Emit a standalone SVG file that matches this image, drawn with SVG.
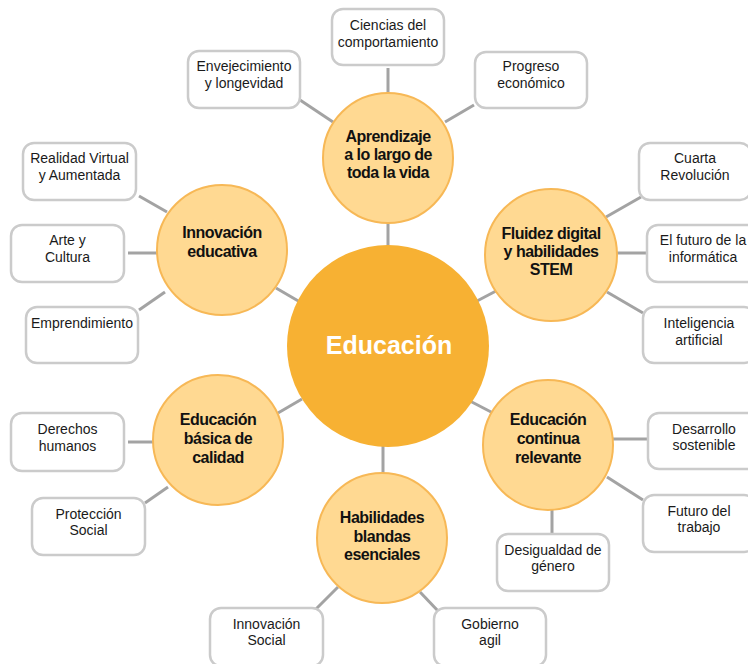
<svg xmlns="http://www.w3.org/2000/svg" width="748" height="664" viewBox="0 0 748 664">
<style>
.ln{stroke:#a3a3a3;stroke-width:3;fill:none}
.box{fill:#fff;stroke:#cbcbcb;stroke-width:2.5}
.sat{fill:#ffd992;stroke:#f7b856;stroke-width:2}
.bt{font-family:"Liberation Sans",Arial,sans-serif;font-size:14px;fill:#1a1a1a;text-anchor:middle}
.st{font-family:"Liberation Sans",Arial,sans-serif;font-size:16px;letter-spacing:-0.5px;font-weight:bold;fill:#111;text-anchor:middle}
.ct{font-family:"Liberation Sans",Arial,sans-serif;font-size:25px;font-weight:bold;fill:#fff;text-anchor:middle}
</style>
<rect width="748" height="664" fill="#fff"/>
<g id="connectors">
<line class="ln" x1="388" y1="68" x2="388" y2="94"/>
<line class="ln" x1="300" y1="100" x2="333" y2="122"/>
<line class="ln" x1="445" y1="122" x2="474" y2="105"/>
<line class="ln" x1="388" y1="222" x2="388" y2="247"/>
<line class="ln" x1="139" y1="196" x2="167" y2="212"/>
<line class="ln" x1="128" y1="253" x2="158" y2="253"/>
<line class="ln" x1="139" y1="310" x2="165" y2="292"/>
<line class="ln" x1="276" y1="288" x2="300" y2="302"/>
<line class="ln" x1="606" y1="217" x2="641" y2="197"/>
<line class="ln" x1="616" y1="253" x2="647" y2="253"/>
<line class="ln" x1="607" y1="292" x2="643" y2="313"/>
<line class="ln" x1="477" y1="301" x2="496" y2="291"/>
<line class="ln" x1="128" y1="442" x2="154" y2="442"/>
<line class="ln" x1="145" y1="503" x2="168" y2="487"/>
<line class="ln" x1="278" y1="413" x2="302" y2="399"/>
<line class="ln" x1="468" y1="400" x2="493" y2="413"/>
<line class="ln" x1="612" y1="439" x2="648" y2="439"/>
<line class="ln" x1="607" y1="477" x2="643" y2="500"/>
<line class="ln" x1="552" y1="509" x2="552" y2="534"/>
<line class="ln" x1="383" y1="446" x2="383" y2="474"/>
<line class="ln" x1="315" y1="610" x2="338" y2="587"/>
<line class="ln" x1="420" y1="592" x2="439" y2="612"/>
</g>
<g id="educacion">
<circle cx="388" cy="346" r="101" fill="#f7b133"/>
<text class="ct" x="389" y="354">Educación</text>
</g>
<g id="aprendizaje">
<circle class="sat" cx="388" cy="158" r="65"/>
<text class="st" x="388" y="142">Aprendizaje</text>
<text class="st" x="388" y="160">a lo largo de</text>
<text class="st" x="388" y="178">toda la vida</text>
</g>
<g id="innovacion-educativa">
<circle class="sat" cx="222" cy="250" r="65"/>
<text class="st" x="222" y="238">Innovación</text>
<text class="st" x="222" y="257">educativa</text>
</g>
<g id="fluidez">
<circle class="sat" cx="551" cy="255" r="66"/>
<text class="st" x="551" y="239">Fluidez digital</text>
<text class="st" x="551" y="257">y habilidades</text>
<text class="st" x="551" y="275">STEM</text>
</g>
<g id="basica">
<circle class="sat" cx="218" cy="440" r="65"/>
<text class="st" x="218" y="425">Educación</text>
<text class="st" x="218" y="444">básica de</text>
<text class="st" x="218" y="463">calidad</text>
</g>
<g id="continua">
<circle class="sat" cx="548" cy="445" r="65"/>
<text class="st" x="548" y="425">Educación</text>
<text class="st" x="548" y="444">continua</text>
<text class="st" x="548" y="463">relevante</text>
</g>
<g id="habilidades">
<circle class="sat" cx="382" cy="538" r="65"/>
<text class="st" x="382" y="523">Habilidades</text>
<text class="st" x="382" y="542">blandas</text>
<text class="st" x="382" y="560">esenciales</text>
</g>
<g id="ciencias">
<rect class="box" x="332" y="9" width="112" height="56" rx="11"/>
<text class="bt" x="388" y="30">Ciencias del</text>
<text class="bt" x="388" y="47">comportamiento</text>
</g>
<g id="envejecimiento">
<rect class="box" x="188" y="51" width="112" height="57" rx="11"/>
<text class="bt" x="244" y="71">Envejecimiento</text>
<text class="bt" x="244" y="88">y longevidad</text>
</g>
<g id="progreso">
<rect class="box" x="475" y="52" width="112" height="56" rx="11"/>
<text class="bt" x="531" y="71">Progreso</text>
<text class="bt" x="531" y="88">económico</text>
</g>
<g id="realidad">
<rect class="box" x="23" y="143" width="113" height="57" rx="11"/>
<text class="bt" x="79.5" y="163">Realidad Virtual</text>
<text class="bt" x="79.5" y="180">y Aumentada</text>
</g>
<g id="arte">
<rect class="box" x="11" y="225" width="113" height="57" rx="11"/>
<text class="bt" x="67.5" y="245">Arte y</text>
<text class="bt" x="67.5" y="262">Cultura</text>
</g>
<g id="emprendimiento">
<rect class="box" x="26" y="307" width="112" height="56" rx="11"/>
<text class="bt" x="82" y="328">Emprendimiento</text>
</g>
<g id="cuarta">
<rect class="box" x="639" y="143" width="112" height="57" rx="11"/>
<text class="bt" x="695" y="163">Cuarta</text>
<text class="bt" x="695" y="180">Revolución</text>
</g>
<g id="futuro-informatica">
<rect class="box" x="647" y="225" width="112" height="57" rx="11"/>
<text class="bt" x="703" y="245">El futuro de la</text>
<text class="bt" x="703" y="262">informática</text>
</g>
<g id="inteligencia">
<rect class="box" x="643" y="307" width="112" height="56" rx="11"/>
<text class="bt" x="699" y="328">Inteligencia</text>
<text class="bt" x="699" y="345">artificial</text>
</g>
<g id="derechos">
<rect class="box" x="11" y="413" width="113" height="58" rx="11"/>
<text class="bt" x="67.5" y="434">Derechos</text>
<text class="bt" x="67.5" y="451">humanos</text>
</g>
<g id="proteccion">
<rect class="box" x="32" y="498" width="113" height="57" rx="11"/>
<text class="bt" x="88.5" y="519">Protección</text>
<text class="bt" x="88.5" y="535">Social</text>
</g>
<g id="desarrollo">
<rect class="box" x="648" y="413" width="112" height="56" rx="11"/>
<text class="bt" x="704" y="434">Desarrollo</text>
<text class="bt" x="704" y="450">sostenible</text>
</g>
<g id="futuro-trabajo">
<rect class="box" x="643" y="495" width="112" height="57" rx="11"/>
<text class="bt" x="699" y="516">Futuro del</text>
<text class="bt" x="699" y="532">trabajo</text>
</g>
<g id="desigualdad">
<rect class="box" x="497" y="534" width="112" height="57" rx="11"/>
<text class="bt" x="553" y="555">Desigualdad de</text>
<text class="bt" x="553" y="571">género</text>
</g>
<g id="innovacion-social">
<rect class="box" x="210" y="608" width="113" height="58" rx="11"/>
<text class="bt" x="266.5" y="629">Innovación</text>
<text class="bt" x="266.5" y="645">Social</text>
</g>
<g id="gobierno">
<rect class="box" x="434" y="608" width="112" height="58" rx="11"/>
<text class="bt" x="490" y="629">Gobierno</text>
<text class="bt" x="490" y="645">agil</text>
</g>
</svg>
